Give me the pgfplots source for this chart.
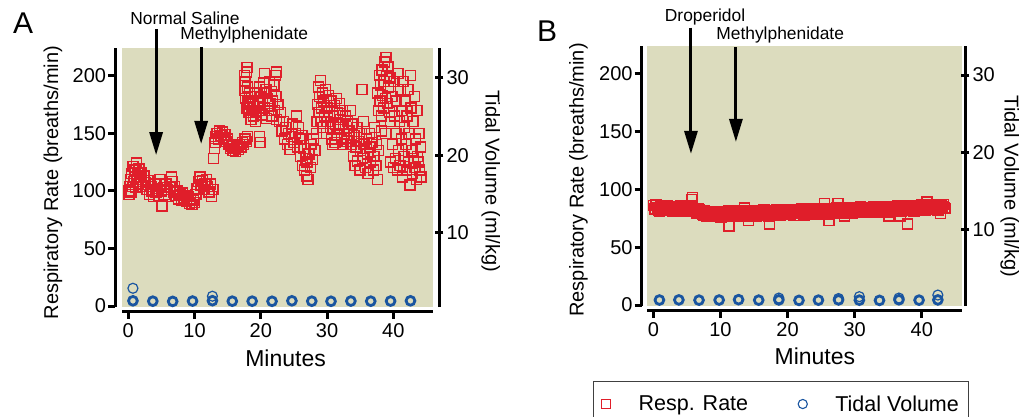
\documentclass[border=0pt]{standalone}
\usepackage{fontspec}
\setmainfont{Liberation Sans}
\usepackage{pgfplots}
\pgfplotsset{compat=1.18}
\usetikzlibrary{arrows.meta}

\definecolor{bgc}{RGB}{220,220,190}
\definecolor{rr}{RGB}{224,30,42}
\definecolor{tv}{RGB}{25,85,160}

\tikzset{
  note/.style={font=\fontsize{17.4}{19}\selectfont, anchor=base},
  arr/.style={line width=3pt, -{Triangle[width=13pt,length=23pt]}},
}

\pgfplotsset{
  panel/.style={
    scale only axis, clip=false,
    axis x line*=bottom, axis y line*=left,
    xmin=-0.95, xmax=46, ymin=-0.87, ymax=224,
    xtick={0,10,20,30,40}, ytick={0,50,100,150,200},
    axis line style={line width=3.5pt, line cap=butt},
    tick style={line width=3pt, black},
    major tick length=7pt, tick align=outside,
    axis background/.style={fill=bgc},
    ticklabel style={font=\fontsize{20}{22}\selectfont, inner sep=2pt},
    xticklabel style={yshift=-3pt},
    /pgf/number format/assume math mode=true,
    xlabel={Minutes}, ylabel={Respiratory Rate (breaths/min)},
    every axis x label/.style={font=\fontsize{23}{26}\selectfont, anchor=center},
    every axis y label/.style={font=\fontsize{20}{22}\selectfont, rotate=90, anchor=center},
  },
  rside/.style={
    scale only axis,
    axis x line=none, axis y line*=right,
    xmin=0, xmax=1, ytick={10,20,30},
    axis line style={line width=3.5pt, line cap=butt},
    tick style={line width=3pt, black},
    major tick length=8pt, tick align=center,
    ticklabel style={font=\fontsize{20}{22}\selectfont, inner sep=3pt},
    /pgf/number format/assume math mode=true,
    ylabel={Tidal Volume (ml/kg)},
    every axis y label/.style={font=\fontsize{20}{22}\selectfont, rotate=-90, anchor=center},
  },
  rate/.style={only marks, color=rr, mark=square, mark size=5pt,
    mark options={draw=rr, fill=none, line width=1.4pt, solid}},
  vol/.style={only marks, color=tv, mark=o, mark size=4.4pt,
    mark options={draw=tv, fill=none, line width=2.8pt, solid}},
  volthin/.style={only marks, color=tv, mark=o, mark size=5pt,
    mark options={draw=tv, fill=none, line width=1.2pt, solid}},
}

\begin{document}
\begin{tikzpicture}
\useasboundingbox (0pt,0pt) rectangle (1030pt,-416pt);

\node[anchor=base west, font=\fontsize{30}{32}\selectfont, inner sep=0pt] at (13pt,-33pt) {A};
\node[anchor=base west, font=\fontsize{30}{32}\selectfont, inner sep=0pt] at (537pt,-41.5pt) {B};

% ---------- panel A ----------
\begin{axis}[panel, at={(122pt,-307pt)}, anchor=south west,
  width=311pt, height=259pt,
  axis x line shift=4.7pt, axis y line shift=6.7pt,
  every axis x label/.append style={at={(axis description cs:0.526,-0.197)}},
  every axis y label/.append style={at={(axis description cs:-0.222,0.48)}}]
\addplot[rate] coordinates {
(0.0,100)(0.1,97)(0.2,104)(0.3,110)(0.4,99)(0.5,115)(0.6,104)(0.7,121)(0.8,108)(0.9,112)
(1.0,118)(1.1,103)(1.2,124)(1.3,110)(1.4,115)(1.5,106)(1.6,119)(1.7,112)(1.8,108)(1.9,116)
(2.0,110)(2.2,104)(2.4,113)(2.6,107)(2.8,101)(3.0,109)(3.2,97)(3.4,104)(3.6,100)(3.8,95)
(4.0,106)(4.2,99)(4.4,102)(4.6,96)(4.8,110)(5.0,100)(5.1,87)(5.3,103)(5.5,97)(5.7,106)
(5.9,101)(6.1,95)(6.3,103)(6.5,112)(6.6,108)(6.8,99)(7.0,104)(7.2,96)(7.4,100)(7.6,93)
(7.8,97)(8.0,92)(8.2,98)(8.4,94)(8.6,96)(8.8,91)(9.0,95)(9.2,89)(9.4,93)(9.6,88)
(9.8,92)(10.0,90)(10.2,97)(10.4,102)(10.6,108)(10.8,112)(11.0,105)(11.2,109)(11.4,101)(11.6,106)
(11.8,110)(12.0,104)(12.2,99)(12.4,106)(12.6,95)(12.8,101)
(12.9,128)(13.0,137)(13.1,142)(13.2,147)(13.4,150)(13.6,145)(13.8,152)(14.0,148)(14.2,151)(14.4,146)
(14.6,149)(14.8,143)(15.0,145)(15.2,140)(15.4,137)(15.6,139)(15.8,135)(16.0,137)(16.2,134)(16.4,138)
(16.6,136)(16.8,140)(17.0,138)(17.2,142)(17.4,140)(17.6,145)(17.8,143)(18.0,147)
(17.5,200)(17.6,195)(17.6,187)(17.7,180)(17.8,203)(17.9,172)(17.9,207)(18.0,190)(18.1,178)(18.2,168)
(18.3,185)(18.4,175)(18.5,162)(18.6,182)(18.7,170)(18.8,178)(18.9,165)(19.0,173)(19.2,160)(19.3,168)
(19.5,185)(19.6,176)(19.8,190)(19.9,170)(20.0,182)(20.2,166)(20.3,178)(20.4,194)(20.5,185)(20.6,172)
(20.6,202)(20.8,188)(20.9,163)(21.0,180)(21.2,170)(21.3,195)(21.4,176)(21.6,186)(21.7,165)(21.8,178)
(22.0,192)(22.1,170)(22.2,200)(22.3,182)(22.4,162)(22.4,203)(19.8,147)(19.9,142)
(22.6,175)(22.8,160)(23.0,168)(23.2,152)(23.4,160)(23.6,145)(23.8,155)(24.0,140)(24.2,150)(24.4,136)
(24.6,147)(24.8,158)(25.0,142)(25.2,150)(25.4,165)(25.5,138)(25.7,155)(25.9,145)(26.0,130)(26.2,148)
(26.3,122)(26.5,137)(26.6,118)(26.8,128)(26.9,113)(27.0,125)(27.1,110)(27.3,132)(27.5,120)(27.6,140)
(27.8,127)(28.0,145)(28.2,135)
(28.4,150)(28.5,160)(28.6,175)(28.7,190)(28.8,168)(28.9,182)(29.0,196)(29.1,160)(29.2,172)(29.3,185)
(29.4,155)(29.5,178)(29.6,165)(29.8,188)(29.9,150)(30.0,172)(30.1,160)(30.2,183)(30.4,168)(30.5,155)
(30.6,178)(30.7,145)(30.8,140)(31.0,165)(31.1,174)(31.2,142)(31.3,158)(31.4,180)(31.5,148)(31.6,168)
(31.8,155)(31.9,176)(32.0,162)(32.2,145)(32.3,170)(32.4,140)(32.5,158)(32.6,150)(32.8,165)(32.9,146)
(33.0,143)(33.1,160)(33.3,152)(33.5,170)(33.6,140)(33.8,158)(35.3,188)
(34.0,130)(34.1,148)(34.2,122)(34.4,138)(34.5,155)(34.6,126)(34.8,143)(35.0,118)(35.1,135)(35.2,150)
(35.4,128)(35.5,160)(35.6,140)(35.8,120)(36.0,145)(36.1,132)(36.2,115)(36.4,150)(36.5,138)(36.6,125)
(36.8,142)(37.0,118)(37.1,130)(37.2,155)(37.4,122)(37.5,140)(37.6,110)(37.8,135)
(37.6,185)(37.8,170)(37.9,200)(38.0,178)(38.1,192)(38.2,165)(38.2,152)(38.3,205)(38.4,183)(38.5,172)
(38.6,195)(38.7,212)(38.8,180)(38.8,150)(38.9,216)(39.0,200)(39.1,176)(39.2,208)(39.3,190)(39.4,168)
(39.5,198)(39.6,160)
(39.6,125)(39.8,182)(39.9,140)(40.0,120)(40.1,195)(40.2,165)(40.3,128)(40.4,150)(40.5,178)(40.6,118)
(40.7,202)(40.8,135)(40.9,160)(41.0,122)(41.1,188)(41.2,145)(41.3,170)(41.4,112)(41.5,195)(41.6,130)
(41.7,155)(41.8,178)(41.9,140)(42.0,118)(42.1,165)(42.2,188)(42.3,125)(42.4,150)(42.5,105)(42.6,200)
(42.7,172)(42.8,135)(42.9,115)(43.0,160)(43.1,128)(43.2,182)(43.3,120)(43.4,145)(43.5,110)(43.6,170)
(43.7,130)(43.8,125)(43.9,150)(44.0,118)(44.1,138)(44.2,112)
};
\addplot[vol] coordinates {
(0.7,4.5)(3.7,4.2)(6.7,4.0)(9.7,4.3)(12.7,4.6)(15.7,4.2)(18.7,4.2)(21.7,4.1)(24.7,4.5)(27.7,4.2)
(30.6,4.1)(33.6,4.3)(36.6,4.2)(39.6,4.3)(42.6,4.5)
};
\addplot[volthin] coordinates {(0.7,15.4)(12.7,8.5)};

\draw[arr] (axis cs:4.2,240.6) -- (axis cs:4.2,131);
\draw[arr] (axis cs:11.0,225) -- (axis cs:11.0,140.7);
\node[note] at (axis cs:8.56,244) {Normal Saline};
\node[note] at (axis cs:17.5,231) {Methylphenidate};
\end{axis}

\begin{axis}[rside, at={(122pt,-307pt)}, anchor=south west,
  width=311pt, height=259pt, ymin=0.45, ymax=33.87,
  axis y line shift=6.3pt,
  every axis y label/.append style={at={(axis description cs:1.186,0.486)}}]
\end{axis}

% ---------- panel B ----------
\begin{axis}[panel, at={(647pt,-306pt)}, anchor=south west,
  width=315pt, height=260pt,
  axis x line shift=4.7pt, axis y line shift=5.3pt,
  every axis x label/.append style={at={(axis description cs:0.533,-0.195)}},
  every axis y label/.append style={at={(axis description cs:-0.218,0.485)}},
  legend columns=2,
  legend style={at={(axis description cs:-0.172,-0.288)}, anchor=north west,
    draw=black!75, line width=1.2pt, fill=white,
    font=\fontsize{21.5}{24}\selectfont, inner xsep=8pt, inner ysep=12pt,
    /tikz/every odd column/.append style={column sep=26pt},
    /tikz/every even column/.append style={column sep=48pt}}]
\addplot[rate, legend image code/.code={\draw[rr, mark=square, mark size=4.6pt, mark options={line width=1.1pt}] plot coordinates {(0pt,0pt)};}] coordinates {
(0.0,86)(0.3,82.5)(0.6,84.5)(0.9,81.4)(1.2,85.3)(1.5,83.8)(1.8,82.7)(2.1,86.2)(2.4,81.6)(2.7,84.6)
(3.0,83)(3.3,85.3)(3.6,85.4)(3.9,81.9)(4.2,83.8)(4.5,80.8)(4.8,84.7)(5.1,83.2)(5.4,82.1)(5.7,85.5)
(6.0,81)(6.3,83.2)(6.6,80.9)(6.9,82.4)(7.2,81.8)(7.5,77.5)(7.8,79.4)(8.1,76.4)(8.4,80.3)(8.7,78.8)
(9.0,77.7)(9.3,81.1)(9.6,76.6)(9.9,79.5)(10.2,78)(10.5,80.4)(10.8,80.6)(11.1,77.2)(11.4,79.2)(11.7,76.3)
(12.0,80.3)(12.3,78.8)(12.6,77.9)(12.9,81.4)(13.2,77)(13.5,80)(13.8,78.6)(14.1,80.9)(14.4,81.2)(14.7,77.7)
(15.0,79.8)(15.3,76.8)(15.6,80.8)(15.9,79.4)(16.2,78.4)(16.5,82)(16.8,77.5)(17.1,80.6)(17.4,79.1)(17.7,81.5)
(18.0,81.7)(18.3,78.2)(18.6,80.3)(18.9,77.3)(19.2,81.4)(19.5,79.9)(19.8,79)(20.1,82.5)(20.4,78.1)(20.7,81.1)
(21.0,79.7)(21.3,82.1)(21.6,82.3)(21.9,78.9)(22.2,80.9)(22.5,78)(22.8,82.1)(23.1,80.6)(23.4,79.7)(23.7,83.2)
(24.0,78.8)(24.3,81.9)(24.6,80.4)(24.9,82.8)(25.2,83)(25.5,79.6)(25.8,81.7)(26.1,78.7)(26.4,82.8)(26.7,81.3)
(27.0,80.4)(27.3,84)(27.6,79.5)(27.9,82.6)(28.2,81.1)(28.5,83.5)(28.8,83.8)(29.1,80.3)(29.4,82.4)(29.7,79.4)
(30.0,83.5)(30.3,82.1)(30.6,81.1)(30.9,84.7)(31.2,80.2)(31.5,83.3)(31.8,81.9)(32.1,84.2)(32.4,84.5)(32.7,81)
(33.0,83.1)(33.3,80.2)(33.6,84.2)(33.9,82.8)(34.2,81.8)(34.5,85.4)(34.8,81)(35.1,84)(35.4,82.6)(35.7,84.9)
(36.0,85.2)(36.3,81.8)(36.6,83.8)(36.9,80.9)(37.2,84.9)(37.5,83.5)(37.8,82.6)(38.1,86.1)(38.4,81.7)(38.7,84.7)
(39.0,83.3)(39.3,85.7)(39.6,85.9)(39.9,82.5)(40.2,84.6)(40.5,81.6)(40.8,85.7)(41.1,84.3)(41.4,83.4)(41.7,87)
(42.0,82.6)(42.3,85.7)(42.6,84.2)(42.9,86.6)(43.2,86.9)(43.5,83.5)
(0.15,83)(0.45,86.5)(0.75,82)(1.05,84.9)(1.35,83.3)(1.65,85.5)(1.95,85.7)(2.25,82.1)(2.55,84.1)(2.85,81)
(3.15,85)(3.45,83.5)(3.75,82.4)(4.05,85.8)(4.35,81.3)(4.65,84.2)(4.95,82.7)(5.25,85)(5.55,85.1)(5.85,81.5)
(6.15,83)(6.45,79.7)(6.75,82.9)(7.05,80.6)(7.35,78.8)(7.65,81.5)(7.95,76.9)(8.25,79.9)(8.55,78.3)(8.85,80.6)
(9.15,80.7)(9.45,77.1)(9.75,79.1)(10.05,76)(10.35,80)(10.65,78.6)(10.95,77.6)(11.25,81.2)(11.55,76.7)(11.85,79.8)
(12.15,78.3)(12.45,80.6)(12.75,80.9)(13.05,77.4)(13.35,79.5)(13.65,76.5)(13.95,80.6)(14.25,79.1)(14.55,78.2)(14.85,81.7)
(15.15,77.3)(15.45,80.3)(15.75,78.8)(16.05,81.2)(16.35,81.4)(16.65,78)(16.95,80)(17.25,77.1)(17.55,81.1)(17.85,79.7)
(18.15,78.7)(18.45,82.2)(18.75,77.8)(19.05,80.8)(19.35,79.4)(19.65,81.7)(19.95,82)(20.25,78.5)(20.55,80.6)(20.85,77.6)
(21.15,81.7)(21.45,80.3)(21.75,79.3)(22.05,82.9)(22.35,78.4)(22.65,81.5)(22.95,80.1)(23.25,82.4)(23.55,82.7)(23.85,79.2)
(24.15,81.3)(24.45,78.4)(24.75,82.4)(25.05,81)(25.35,80)(25.65,83.6)(25.95,79.2)(26.25,82.2)(26.55,80.8)(26.85,83.1)
(27.15,83.4)(27.45,80)(27.75,82)(28.05,79.1)(28.35,83.1)(28.65,81.7)(28.95,80.8)(29.25,84.3)(29.55,79.9)(29.85,82.9)
(30.15,81.5)(30.45,83.9)(30.75,84.1)(31.05,80.7)(31.35,82.7)(31.65,79.8)(31.95,83.9)(32.25,82.4)(32.55,81.5)(32.85,85)
(33.15,80.6)(33.45,83.7)(33.75,82.2)(34.05,84.6)(34.35,84.8)(34.65,81.4)(34.95,83.5)(35.25,80.5)(35.55,84.6)(35.85,83.1)
(36.15,82.2)(36.45,85.8)(36.75,81.3)(37.05,84.4)(37.35,82.9)(37.65,85.3)(37.95,85.6)(38.25,82.1)(38.55,84.2)(38.85,81.2)
(39.15,85.3)(39.45,83.9)(39.75,82.9)(40.05,86.5)(40.35,82.1)(40.65,85.1)(40.95,83.7)(41.25,86.1)(41.55,86.4)(41.85,83)
(42.15,85.1)(42.45,82.2)(42.75,86.2)(43.05,84.8)(43.35,83.9)
(5.7,91)(5.8,93)(11.3,68.5)(13.6,84)(14.2,73)(17.3,70)(25.5,88)(26.2,73)(27.5,88)(28.5,77)
(35.1,77)(36.8,77)(37.9,70)(40.8,89)(42.8,79)(0.3,87)
};
\addlegendentry{Resp. Rate}
\addplot[vol, legend image code/.code={\draw[tv, mark=o, mark size=4.6pt, mark options={line width=1.1pt}] plot coordinates {(0pt,0pt)};}] coordinates {
(0.9,4.3)(3.8,4.4)(6.8,4.2)(9.8,4.3)(12.7,4.6)(15.7,4.2)(18.7,4.4)(21.7,4.0)(24.6,4.2)(27.6,4.4)
(30.7,4.2)(33.7,4.0)(36.6,4.5)(39.6,4.2)(42.4,4.4)
};
\addlegendentry{Tidal Volume}
\addplot[volthin, forget plot] coordinates {(18.7,6.0)(27.6,5.6)(30.7,7.2)(36.6,6.0)(42.4,8.6)};

\draw[arr] (axis cs:5.6,240) -- (axis cs:5.6,130.7);
\draw[arr] (axis cs:12.3,223) -- (axis cs:12.3,141);
\node[note] at (axis cs:7.7,245) {Droperidol};
\node[note] at (axis cs:18.9,230) {Methylphenidate};
\end{axis}

\begin{axis}[rside, at={(647pt,-306pt)}, anchor=south west,
  width=315pt, height=260pt, ymin=0.06, ymax=33.76,
  axis y line shift=3.3pt,
  every axis y label/.append style={at={(axis description cs:1.152,0.46)}}]
\end{axis}
\end{tikzpicture}
\end{document}
